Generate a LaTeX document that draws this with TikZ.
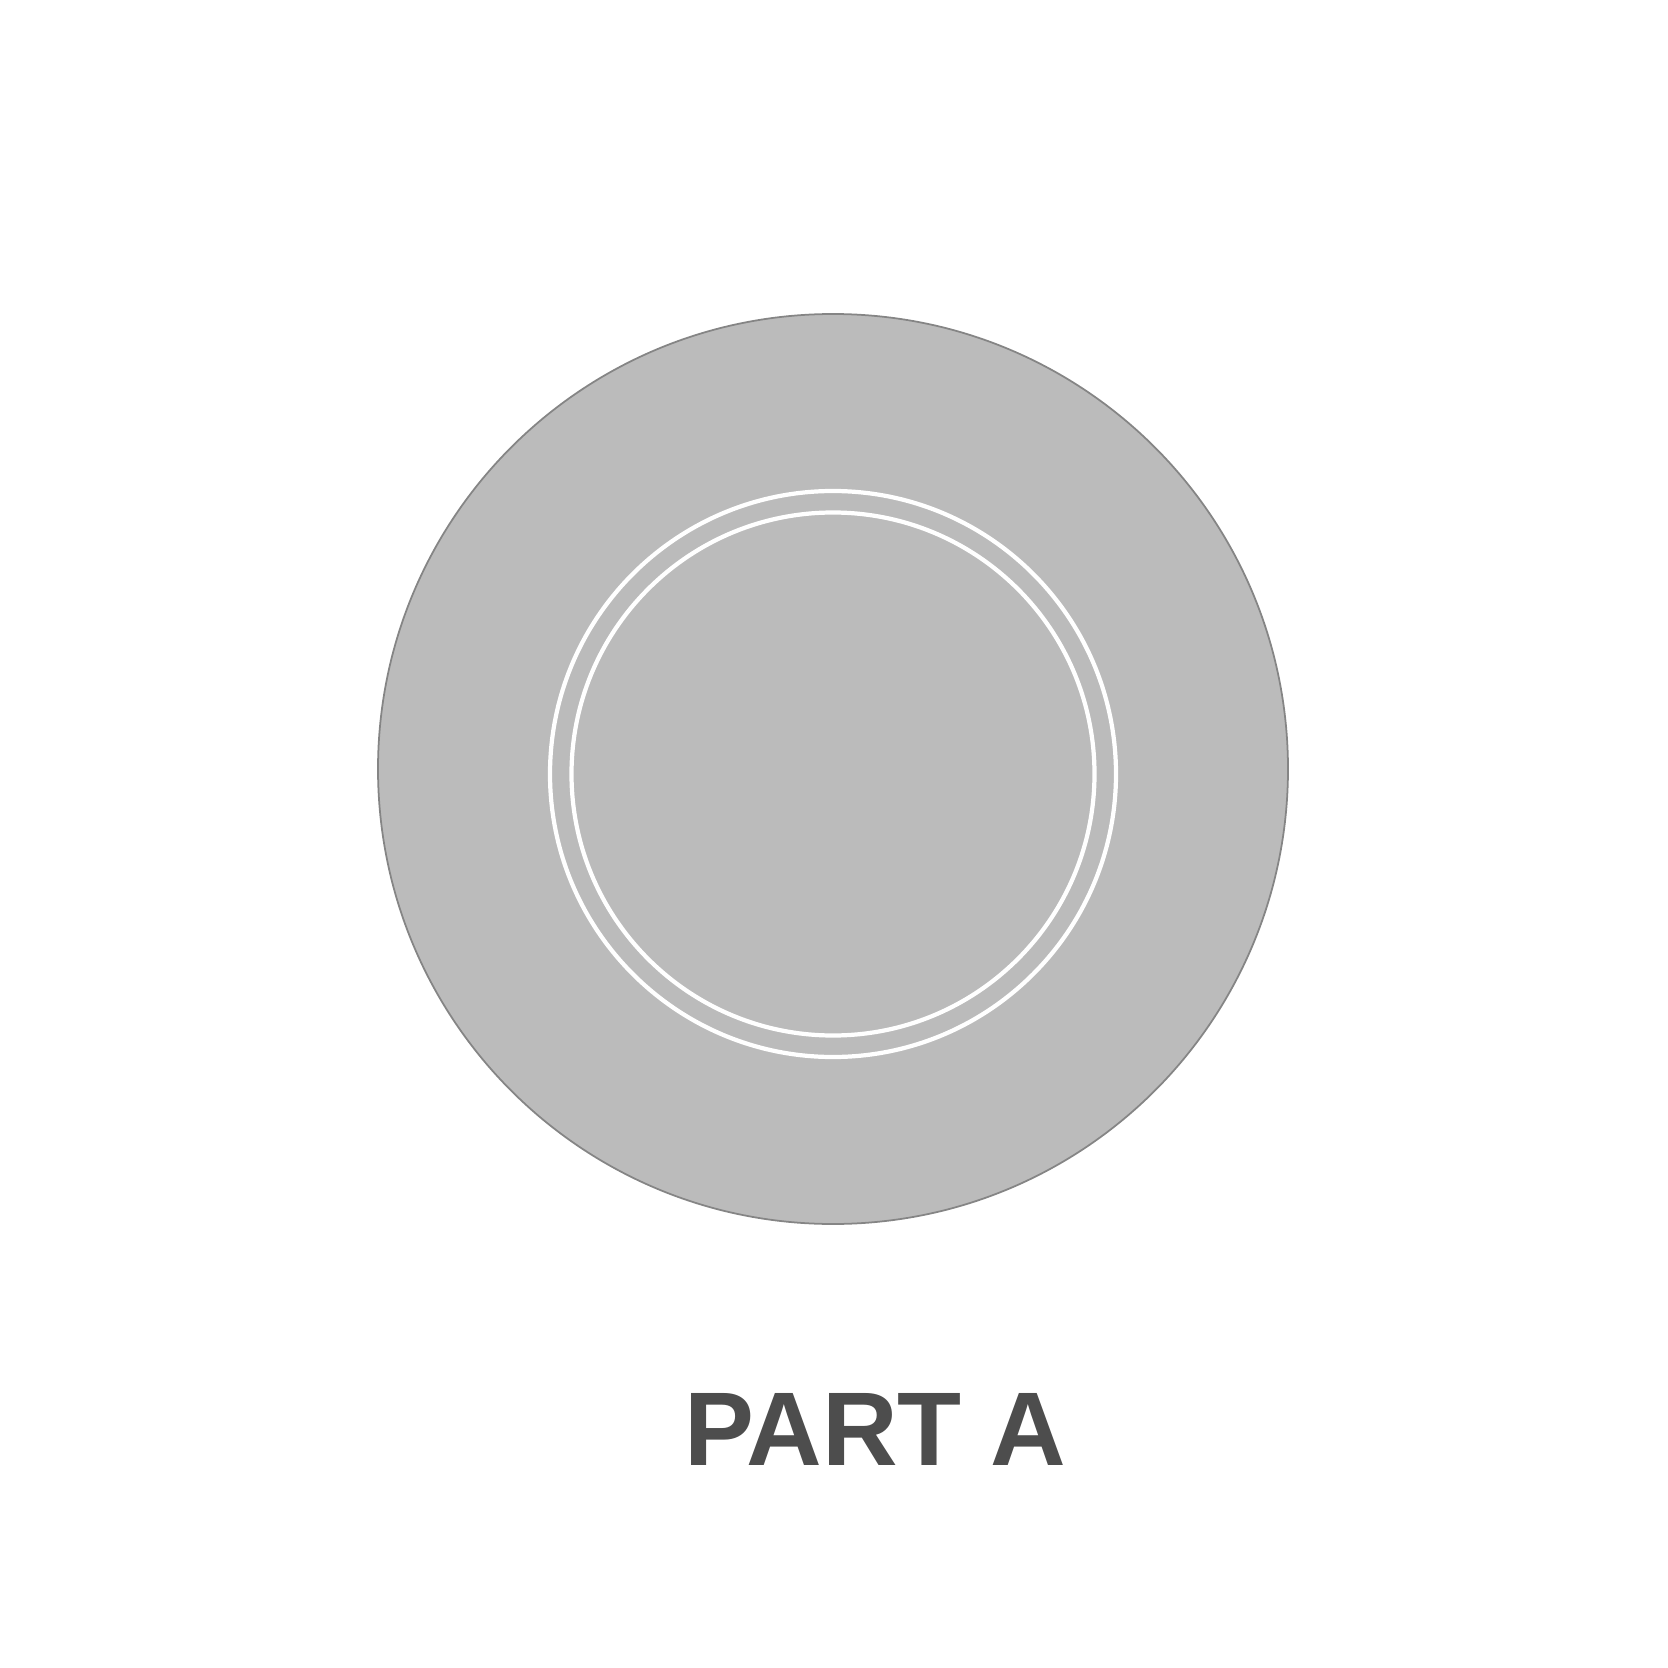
\documentclass[tikz,border=0pt]{standalone}
\usepackage{fontspec}
\setmainfont{Liberation Sans}
\usepackage{tikz}
\definecolor{platefill}{HTML}{BBBBBB}
\definecolor{plateedge}{HTML}{858585}
\definecolor{labelgrey}{HTML}{4D4D4D}
\tikzset{
	plate/.style={fill=platefill, draw=plateedge, line width=0.5pt},
	ring/.style={draw=white, line width=1.2pt},
	partlabel/.style={text=labelgrey, font=\bfseries\fontsize{29.8}{36}\selectfont, anchor=base, inner sep=0pt}
}
\begin{document}
\begin{tikzpicture}
			%%%%% START %%%%%
			
			\useasboundingbox (0, 0) rectangle (16.68, 16.67);
			
			\draw[plate] (8.33, 8.98) circle (4.55);
			
			\draw[ring] (8.33, 8.93) circle (2.83);
			\draw[ring] (8.33, 8.93) circle (2.615);
			
			\node[partlabel] (parta) at (8.755, 2.02) {PART A};
			
			%%%%% END %%%%%
		\end{tikzpicture}
\end{document}
